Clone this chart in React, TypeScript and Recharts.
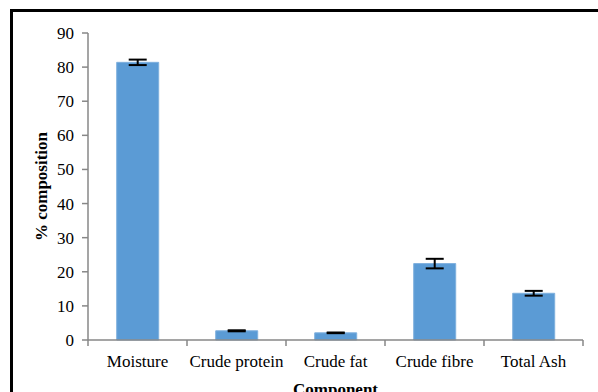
import { BarChart, Bar, XAxis, YAxis, ErrorBar } from "recharts"

const components = ["Moisture", "Crude protein", "Crude fat", "Crude fibre", "Total Ash"]
const composition = [81.4, 2.7, 2.1, 22.4, 13.7]
const stdError = [0.8, 0.15, 0.1, 1.4, 0.7]
const yTicks = [0, 10, 20, 30, 40, 50, 60, 70, 80, 90]

const data = components.map((name, i) => ({
  name,
  value: composition[i],
  err: stdError[i],
}))

const font = "Liberation Serif, Times New Roman, serif"
const axisGray = "#878787"
const W = 598
const H = 392
const MARGIN = { top: 33, right: 15, left: 30, bottom: 0 }
const Y_AXIS_W = 58
const X_TICK_SIZE = 6
const X_TICK_MARGIN = 9
const BAND = (W - MARGIN.left - MARGIN.right - Y_AXIS_W) / components.length

// Excel-style category axis: tick marks sit between categories, not under them
function CategoryTick(props: any) {
  const { x, y, payload, index } = props
  const axisY = y - X_TICK_SIZE - X_TICK_MARGIN
  const last = index === components.length - 1
  return (
    <g>
      <line x1={x - BAND / 2} x2={x - BAND / 2} y1={axisY} y2={axisY + X_TICK_SIZE} stroke={axisGray} strokeWidth={1.5} />
      {last && <line x1={x + BAND / 2} x2={x + BAND / 2} y1={axisY} y2={axisY + X_TICK_SIZE} stroke={axisGray} strokeWidth={1.5} />}
      <text x={x} y={y} dy="0.71em" textAnchor="middle" fontSize={17} fill="#000" fontFamily={font}>
        {payload.value}
      </text>
    </g>
  )
}

export default function App() {
  return (
    <div style={{ position: "absolute", left: 0, top: 0, width: W, height: H, background: "#fff", overflow: "hidden", fontFamily: font }}>
      <div style={{ position: "absolute", left: 10, top: 9, width: 600, height: 400, borderLeft: "3px solid #000", borderTop: "3px solid #000" }} />
      <BarChart
        width={W}
        height={H}
        data={data}
        margin={MARGIN}
        barCategoryGap="29%"
        style={{ position: "absolute", left: 0, top: 0, fontFamily: font }}
      >
        <XAxis
          dataKey="name"
          height={52}
          axisLine={{ stroke: axisGray, strokeWidth: 1.5 }}
          tickLine={false}
          tickSize={X_TICK_SIZE}
          tickMargin={X_TICK_MARGIN}
          tick={CategoryTick}
          interval={0}
          label={{ value: "Component", position: "insideBottom", offset: -3, fontSize: 17, fontWeight: "bold", fill: "#000", fontFamily: font }}
        />
        <YAxis
          domain={[0, 90]}
          ticks={yTicks}
          width={Y_AXIS_W}
          axisLine={{ stroke: axisGray, strokeWidth: 1.5 }}
          tickLine={{ stroke: axisGray, strokeWidth: 1.5 }}
          tickSize={6}
          tickMargin={8}
          tick={{ fontSize: 17, fill: "#000", fontFamily: font }}
          label={{ value: "% composition", angle: -90, position: "insideLeft", offset: 11, fontSize: 17, fontWeight: "bold", fill: "#000", fontFamily: font, style: { textAnchor: "middle" } }}
        />
        <Bar dataKey="value" fill="#5B9BD5" stroke="#7FB0DE" strokeWidth={1} isAnimationActive={false}>
          <ErrorBar dataKey="err" width={9} stroke="#000" strokeWidth={2} direction="y" isAnimationActive={false} />
        </Bar>
      </BarChart>
    </div>
  )
}
